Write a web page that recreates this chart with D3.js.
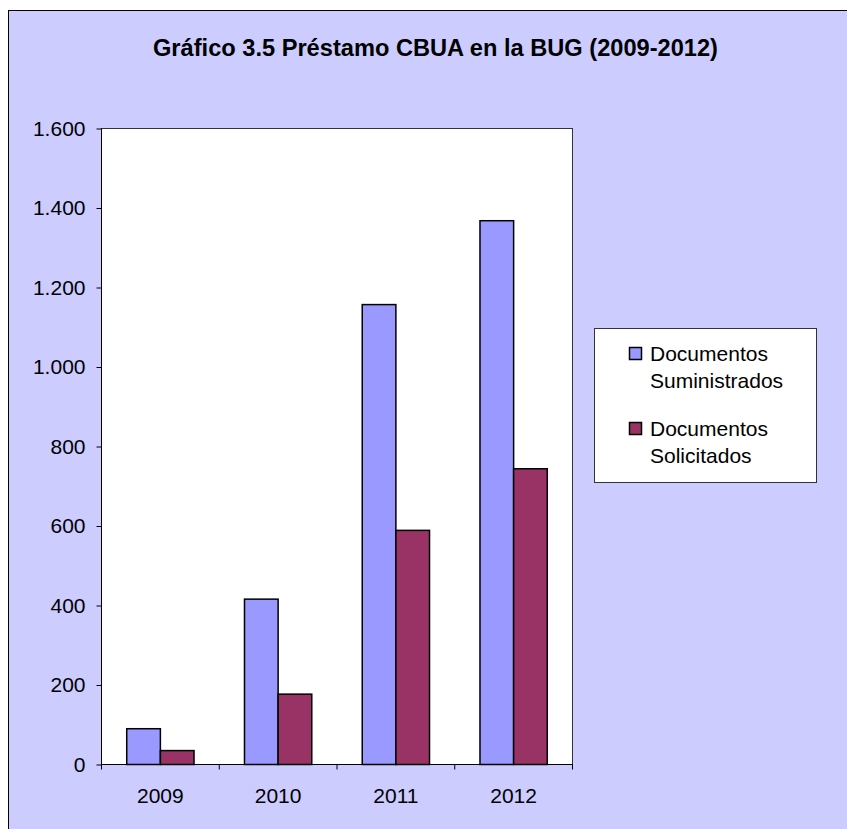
<!DOCTYPE html>
<html>
<head>
<meta charset="utf-8">
<script src="https://cdn.jsdelivr.net/npm/d3@7"></script>
<style>
  body { margin: 0; background: #ffffff; }
  svg { display: block; font-family: 'Liberation Sans', Arial, sans-serif; }
</style>
</head>
<body>
<svg id="chart" width="847" height="829"></svg>
<script>
const years = ['2009', '2010', '2011', '2012'];
const seriesNames = ['Documentos Suministrados', 'Documentos Solicitados'];
const suministrados = [90, 416, 1157, 1368];
const solicitados = [35, 177, 589, 744];
const yTicks = [0, 200, 400, 600, 800, 1000, 1200, 1400, 1600];
const legendLines = [['Documentos', 'Suministrados'], ['Documentos', 'Solicitados']];
const title = 'Gráfico 3.5 Préstamo CBUA en la BUG (2009-2012)';

const colors = ['#9999ff', '#993366'];
const rows = years.map((y, i) => ({ year: y, values: [suministrados[i], solicitados[i]] }));

const svg = d3.select('#chart');

// chart background + outer frame (runs off the right/bottom edge)
svg.append('rect')
  .attr('x', 8.5)
  .attr('y', 10.5)
  .attr('width', 900)
  .attr('height', 900)
  .attr('fill', '#ccccff')
  .attr('stroke', '#000')
  .attr('stroke-width', 1);

// title is drawn narrow and tight in the original, so squeeze it to its width
svg.append('text')
  .attr('x', 435.5)
  .attr('y', 56)
  .attr('text-anchor', 'middle')
  .attr('font-size', '23px')
  .attr('font-weight', 'bold')
  .attr('textLength', 565)
  .attr('lengthAdjust', 'spacingAndGlyphs')
  .text(title);

const plot = { left: 101.5, top: 128.5, width: 471, height: 636 };

const g = svg.append('g').attr('transform', `translate(${plot.left},${plot.top})`);

g.append('rect')
  .attr('width', plot.width)
  .attr('height', plot.height)
  .attr('fill', '#fff')
  .attr('stroke', '#333')
  .attr('stroke-width', 1);

const yScale = d3.scaleLinear().domain([0, 1600]).range([plot.height, 0]);
const x0 = d3.scaleBand().domain(years).range([0, plot.width]).padding(0);
const x1 = d3
  .scaleBand()
  .domain(d3.range(seriesNames.length))
  .range([0, x0.bandwidth()])
  .paddingInner(0)
  .paddingOuter(0.75);

g.selectAll('.group')
  .data(rows)
  .join('g')
  .attr('class', 'group')
  .attr('transform', (d) => `translate(${x0(d.year)},0)`)
  .selectAll('rect')
  .data((d) => d.values.map((v, k) => ({ v, k })))
  .join('rect')
  .attr('x', (d) => x1(d.k))
  .attr('y', (d) => yScale(d.v))
  .attr('width', x1.bandwidth())
  .attr('height', (d) => plot.height - yScale(d.v))
  .attr('fill', (d) => colors[d.k])
  .attr('stroke', '#000')
  .attr('stroke-width', 1.5);

// y axis
const yAxisG = g.append('g')
  .call(
    d3
      .axisLeft(yScale)
      .tickValues(yTicks)
      .tickSize(5)
      .tickPadding(11)
      .tickFormat((d) => d3.format(',')(d).replace(/,/g, '.')),
  );
yAxisG.selectAll('text').attr('font-size', '21px').attr('fill', '#000').attr('font-family', 'Liberation Sans, Arial, sans-serif');
yAxisG.selectAll('line').attr('stroke', '#000');
yAxisG.select('.domain').attr('d', `M0,0V${plot.height}`).attr('stroke', '#000');

// x axis: ticks sit on category boundaries, labels centred
const xAxisG = g.append('g').attr('transform', `translate(0,${plot.height})`);
xAxisG.append('line')
  .attr('x1', 0)
  .attr('x2', plot.width)
  .attr('stroke', '#000');
xAxisG.selectAll('.bound')
  .data(years.concat(['end']))
  .join('line')
  .attr('class', 'bound')
  .attr('x1', (d, i) => i * x0.step())
  .attr('x2', (d, i) => i * x0.step())
  .attr('y1', 0)
  .attr('y2', 5)
  .attr('stroke', '#000');
xAxisG.selectAll('.lbl')
  .data(years)
  .join('text')
  .attr('class', 'lbl')
  .attr('x', (d) => x0(d) + x0.bandwidth() / 2)
  .attr('y', 38.5)
  .attr('text-anchor', 'middle')
  .attr('font-size', '21px')
  .text((d) => d);

// legend
const legend = svg.append('g').attr('transform', 'translate(594.5,328.5)');
legend.append('rect')
  .attr('width', 222)
  .attr('height', 154)
  .attr('fill', '#fff')
  .attr('stroke', '#333')
  .attr('stroke-width', 1);

const item = legend.selectAll('.item')
  .data(legendLines)
  .join('g')
  .attr('class', 'item')
  .attr('transform', (d, i) => `translate(0,${i * 75})`);

item.append('rect')
  .attr('x', 35)
  .attr('y', 19)
  .attr('width', 12)
  .attr('height', 12)
  .attr('fill', (d, i) => colors[i])
  .attr('stroke', '#000')
  .attr('stroke-width', 1.5);

item.append('text')
  .attr('x', 55.5)
  .attr('y', 32)
  .attr('font-size', '21px')
  .text((d) => d[0]);

item.append('text')
  .attr('x', 55.5)
  .attr('y', 59)
  .attr('font-size', '21px')
  .text((d) => d[1]);
</script>
</body>
</html>
